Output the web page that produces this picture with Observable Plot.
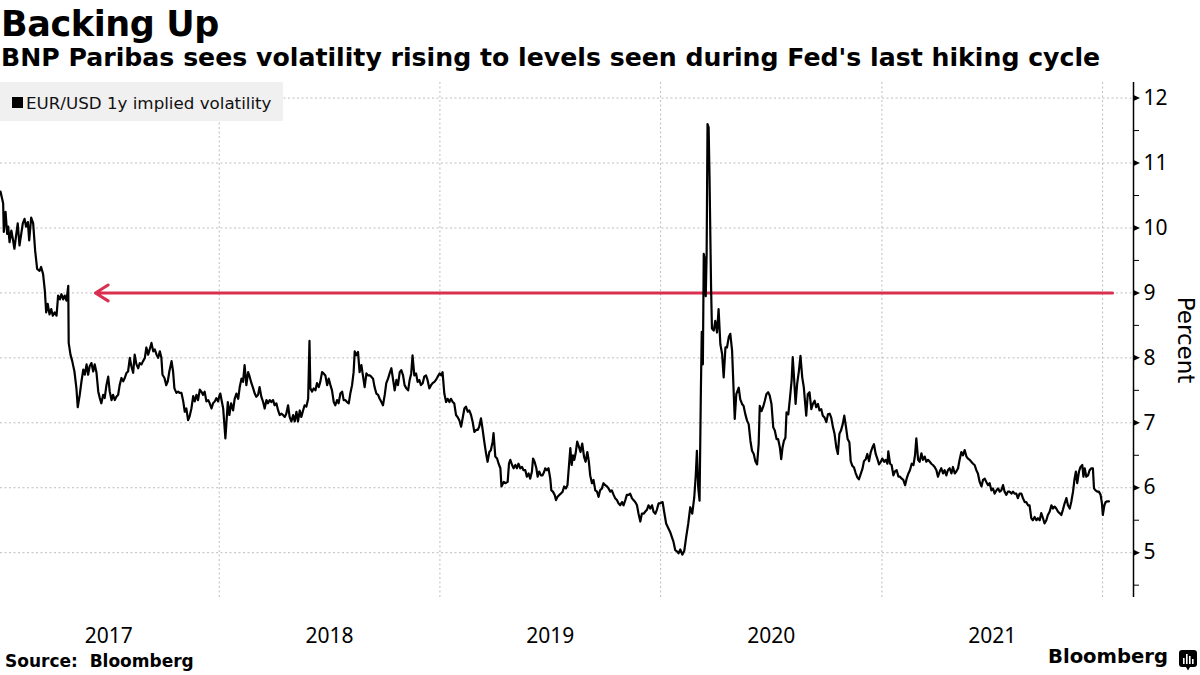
<!DOCTYPE html>
<html>
<head>
<meta charset="utf-8">
<script src="https://cdn.jsdelivr.net/npm/d3@7"></script>
<script src="https://cdn.jsdelivr.net/npm/@observablehq/plot@0.6"></script>
<style>
  html, body { margin: 0; padding: 0; background: #fff; }
  body { width: 1200px; height: 675px; overflow: hidden; position: relative; font-family: "DejaVu Sans", sans-serif; color: #000; }
  .abs { position: absolute; white-space: nowrap; line-height: 1; }
  #title { left: 1px; top: 7px; font-size: 35px; font-weight: bold; letter-spacing: -0.4px; }
  #subtitle { left: 1px; top: 45px; font-size: 25.2px; font-weight: bold; }
  #chart { position: absolute; left: 0; top: 76px; }
  #legend { left: 0; top: 82px; width: 283px; height: 39px; background: #f0f0f0; }
  #legend .sw { position: absolute; left: 12px; top: 15px; width: 11px; height: 11px; background: #000; }
  #legend .lt { position: absolute; left: 26px; top: 13px; font-size: 16.7px; line-height: 1; white-space: nowrap; color: #111; }
  #percent { left: 1185px; top: 340px; font-size: 23px; transform: translate(-50%, -50%) rotate(90deg); transform-origin: center; }
  #source { left: 5px; top: 653px; font-size: 17px; font-weight: bold; }
  #brand { left: 1048px; top: 647px; font-size: 19.6px; font-weight: bold; }
  #logo { position: absolute; left: 1179px; top: 650px; }
</style>
</head>
<body>
<div id="title" class="abs">Backing Up</div>
<div id="subtitle" class="abs">BNP Paribas sees volatility rising to levels seen during Fed's last hiking cycle</div>
<div id="chart"></div>
<div id="legend" class="abs"><div class="sw"></div><div class="lt">EUR/USD 1y implied volatility</div></div>
<div id="percent" class="abs">Percent</div>
<div id="source" class="abs">Source:&nbsp; Bloomberg</div>
<div id="brand" class="abs">Bloomberg</div>
<svg id="logo" width="18" height="21" viewBox="0 0 18 21">
  <path d="M3 0 H15 Q18 0 18 3 V14 Q18 17 15 17 H11 L9 20.5 L7 17 H3 Q0 17 0 14 V3 Q0 0 3 0 Z" fill="#000"/>
  <rect x="4" y="8" width="1.6" height="6" fill="#fff"/>
  <rect x="7" y="4" width="1.6" height="10" fill="#fff"/>
  <rect x="10" y="6" width="1.6" height="8" fill="#fff"/>
  <rect x="13" y="9" width="1.6" height="5" fill="#fff"/>
</svg>
<script>
// ---- data (x as decimal years, y as percent) ----
const series = [
[2017.009,10.56],[2017.021,10.38],[2017.024,9.94],[2017.032,10.25],[2017.039,9.91],[2017.044,10.02],[2017.050,9.78],[2017.058,9.96],[2017.065,9.83],[2017.072,9.68],
[2017.080,9.89],[2017.087,10.07],[2017.095,9.73],[2017.103,9.91],[2017.110,10.07],[2017.118,10.14],[2017.125,10.02],[2017.133,10.09],[2017.139,9.81],[2017.148,10.16],
[2017.157,10.07],[2017.166,9.65],[2017.175,9.37],[2017.186,9.34],[2017.193,9.40],[2017.202,9.29],[2017.210,9.03],[2017.216,8.70],[2017.223,8.83],[2017.231,8.67],
[2017.239,8.75],[2017.246,8.65],[2017.255,8.70],[2017.263,8.65],[2017.270,8.96],[2017.278,8.90],[2017.285,8.98],[2017.293,8.90],[2017.300,8.96],[2017.308,8.88],
[2017.316,9.11],[2017.318,8.23],[2017.326,8.05],[2017.334,7.95],[2017.344,7.79],[2017.353,7.53],[2017.359,7.24],[2017.368,7.43],[2017.376,7.64],[2017.384,7.82],
[2017.391,7.74],[2017.399,7.90],[2017.406,7.74],[2017.413,7.87],[2017.421,7.92],[2017.429,7.79],[2017.436,7.90],[2017.444,7.77],[2017.452,7.48],[2017.459,7.38],
[2017.466,7.30],[2017.474,7.43],[2017.481,7.38],[2017.489,7.58],[2017.497,7.71],[2017.504,7.48],[2017.512,7.35],[2017.519,7.43],[2017.527,7.35],[2017.534,7.40],
[2017.542,7.43],[2017.549,7.58],[2017.557,7.69],[2017.565,7.64],[2017.572,7.69],[2017.580,7.77],[2017.587,7.79],[2017.595,8.00],[2017.602,7.87],[2017.610,7.77],
[2017.617,8.05],[2017.625,7.90],[2017.633,7.84],[2017.640,7.92],[2017.648,7.90],[2017.655,7.95],[2017.663,8.00],[2017.670,8.16],[2017.678,8.05],[2017.685,8.13],
[2017.693,8.23],[2017.701,8.10],[2017.708,8.13],[2017.716,8.05],[2017.723,8.00],[2017.731,8.10],[2017.738,8.00],[2017.743,7.74],[2017.752,7.69],[2017.760,7.58],
[2017.767,7.64],[2017.774,7.79],[2017.784,7.95],[2017.791,7.79],[2017.797,7.53],[2017.806,7.46],[2017.814,7.48],[2017.821,7.46],[2017.829,7.46],[2017.837,7.33],
[2017.844,7.17],[2017.851,7.22],[2017.859,7.04],[2017.866,7.10],[2017.874,7.22],[2017.882,7.41],[2017.889,7.33],[2017.897,7.43],[2017.904,7.35],[2017.912,7.51],
[2017.919,7.48],[2017.927,7.43],[2017.934,7.48],[2017.942,7.33],[2017.950,7.35],[2017.957,7.30],[2017.965,7.22],[2017.972,7.30],[2017.980,7.33],[2017.987,7.38],
[2017.995,7.33],[2018.002,7.43],[2018.005,7.45],[2018.018,7.22],[2018.028,6.76],[2018.039,7.32],[2018.046,7.12],[2018.054,7.30],[2018.063,7.19],[2018.070,7.37],
[2018.078,7.45],[2018.086,7.37],[2018.093,7.55],[2018.101,7.68],[2018.108,7.63],[2018.115,7.89],[2018.123,7.58],[2018.131,7.78],[2018.138,7.71],[2018.146,7.61],
[2018.154,7.53],[2018.161,7.45],[2018.168,7.40],[2018.176,7.43],[2018.183,7.55],[2018.191,7.40],[2018.199,7.32],[2018.206,7.22],[2018.214,7.35],[2018.221,7.30],
[2018.229,7.35],[2018.236,7.32],[2018.244,7.35],[2018.251,7.27],[2018.259,7.30],[2018.267,7.19],[2018.274,7.12],[2018.282,7.14],[2018.289,7.12],[2018.297,7.09],
[2018.304,7.14],[2018.312,7.27],[2018.319,7.09],[2018.327,7.02],[2018.335,7.12],[2018.342,7.02],[2018.350,7.17],[2018.357,7.02],[2018.365,7.19],[2018.372,7.09],
[2018.380,7.19],[2018.387,7.27],[2018.395,7.25],[2018.403,7.37],[2018.409,8.26],[2018.413,7.53],[2018.421,7.48],[2018.428,7.53],[2018.436,7.50],[2018.443,7.61],
[2018.451,7.55],[2018.458,7.63],[2018.466,7.78],[2018.473,7.76],[2018.481,7.73],[2018.489,7.58],[2018.496,7.68],[2018.504,7.58],[2018.511,7.50],[2018.519,7.32],
[2018.526,7.27],[2018.534,7.35],[2018.541,7.30],[2018.549,7.45],[2018.557,7.48],[2018.564,7.35],[2018.572,7.35],[2018.579,7.32],[2018.587,7.30],[2018.594,7.45],
[2018.602,7.58],[2018.609,7.78],[2018.614,8.10],[2018.621,8.04],[2018.629,8.09],[2018.636,7.78],[2018.644,7.89],[2018.652,7.71],[2018.659,7.55],[2018.667,7.76],
[2018.674,7.73],[2018.682,7.73],[2018.689,7.71],[2018.697,7.68],[2018.704,7.55],[2018.712,7.45],[2018.720,7.43],[2018.727,7.37],[2018.735,7.32],[2018.742,7.27],
[2018.750,7.43],[2018.757,7.61],[2018.765,7.68],[2018.772,7.76],[2018.780,7.84],[2018.788,7.66],[2018.795,7.50],[2018.803,7.66],[2018.810,7.58],[2018.818,7.78],
[2018.825,7.81],[2018.833,7.73],[2018.840,7.58],[2018.848,7.53],[2018.856,7.50],[2018.863,7.66],[2018.870,7.76],[2018.876,8.04],[2018.884,7.73],[2018.892,7.76],
[2018.899,7.63],[2018.907,7.66],[2018.914,7.58],[2018.922,7.61],[2018.929,7.71],[2018.937,7.73],[2018.944,7.66],[2018.952,7.53],[2018.960,7.58],[2018.967,7.61],
[2018.975,7.63],[2018.982,7.66],[2018.990,7.71],[2018.999,7.76],[2019.006,7.73],[2019.012,7.78],[2019.020,7.45],[2019.028,7.32],[2019.035,7.37],[2019.043,7.32],
[2019.050,7.37],[2019.058,7.32],[2019.065,7.30],[2019.073,7.12],[2019.080,7.09],[2019.088,7.04],[2019.096,6.94],[2019.103,7.07],[2019.111,7.22],[2019.118,7.25],
[2019.126,7.17],[2019.133,7.19],[2019.141,7.12],[2019.148,7.02],[2019.156,6.86],[2019.164,6.89],[2019.171,6.89],[2019.178,6.94],[2019.186,7.07],[2019.193,6.91],
[2019.201,6.71],[2019.209,6.53],[2019.216,6.40],[2019.224,6.55],[2019.231,6.58],[2019.239,6.71],[2019.243,6.84],[2019.251,6.48],[2019.259,6.45],[2019.266,6.37],
[2019.274,6.30],[2019.279,6.02],[2019.289,6.09],[2019.296,6.07],[2019.307,6.09],[2019.313,6.37],[2019.319,6.43],[2019.327,6.35],[2019.334,6.30],[2019.342,6.35],
[2019.349,6.30],[2019.356,6.37],[2019.364,6.30],[2019.372,6.32],[2019.379,6.27],[2019.387,6.27],[2019.394,6.17],[2019.402,6.22],[2019.409,6.14],[2019.417,6.25],
[2019.422,6.45],[2019.429,6.40],[2019.437,6.30],[2019.443,6.17],[2019.450,6.25],[2019.458,6.19],[2019.465,6.19],[2019.473,6.25],[2019.477,6.30],[2019.485,6.27],
[2019.492,6.30],[2019.500,6.14],[2019.505,5.96],[2019.512,5.94],[2019.520,5.89],[2019.526,5.81],[2019.533,5.86],[2019.541,5.89],[2019.548,5.91],[2019.556,5.94],
[2019.563,6.02],[2019.571,5.99],[2019.578,6.04],[2019.585,6.35],[2019.591,6.61],[2019.597,6.35],[2019.603,6.50],[2019.609,6.43],[2019.615,6.53],[2019.622,6.71],
[2019.630,6.63],[2019.637,6.55],[2019.645,6.68],[2019.653,6.48],[2019.660,6.40],[2019.668,6.55],[2019.675,6.40],[2019.681,6.19],[2019.689,6.07],[2019.696,6.12],
[2019.704,5.96],[2019.712,5.94],[2019.719,5.86],[2019.726,5.96],[2019.734,5.99],[2019.741,6.07],[2019.749,6.04],[2019.757,6.02],[2019.764,5.99],[2019.772,5.94],
[2019.779,5.96],[2019.787,5.89],[2019.794,5.84],[2019.802,5.81],[2019.809,5.76],[2019.817,5.73],[2019.825,5.78],[2019.832,5.73],[2019.840,5.81],[2019.847,5.89],
[2019.855,5.89],[2019.862,5.91],[2019.870,5.84],[2019.877,5.81],[2019.885,5.78],[2019.893,5.73],[2019.900,5.60],[2019.908,5.48],[2019.915,5.60],[2019.923,5.60],
[2019.930,5.63],[2019.938,5.66],[2019.945,5.73],[2019.953,5.68],[2019.961,5.73],[2019.968,5.63],[2019.976,5.60],[2019.983,5.66],[2019.991,5.76],[2019.998,5.76],
[2020.009,5.78],[2020.016,5.63],[2020.025,5.45],[2020.036,5.37],[2020.043,5.32],[2020.051,5.24],[2020.058,5.17],[2020.066,5.04],[2020.074,5.02],[2020.081,4.99],
[2020.089,5.05],[2020.098,4.97],[2020.107,5.03],[2020.116,5.25],[2020.125,5.45],[2020.134,5.70],[2020.143,5.60],[2020.152,5.85],[2020.159,6.20],[2020.164,6.57],
[2020.170,6.00],[2020.176,5.80],[2020.182,7.50],[2020.186,8.40],[2020.191,7.90],[2020.195,9.60],[2020.200,9.50],[2020.204,8.95],[2020.208,9.60],[2020.212,11.60],
[2020.217,11.55],[2020.221,10.80],[2020.228,9.10],[2020.232,8.45],[2020.240,8.42],[2020.247,8.57],[2020.255,8.39],[2020.262,8.75],[2020.270,8.21],[2020.278,8.06],
[2020.285,7.70],[2020.293,8.16],[2020.300,8.16],[2020.308,8.32],[2020.315,8.37],[2020.323,8.11],[2020.330,7.49],[2020.335,7.06],[2020.342,7.44],[2020.353,7.54],
[2020.360,7.36],[2020.368,7.29],[2020.375,7.26],[2020.383,7.13],[2020.391,7.03],[2020.398,6.98],[2020.406,6.72],[2020.413,6.57],[2020.421,6.52],[2020.428,6.41],
[2020.436,6.36],[2020.443,6.67],[2020.448,7.26],[2020.456,7.18],[2020.463,7.24],[2020.471,7.34],[2020.478,7.44],[2020.486,7.47],[2020.493,7.42],[2020.501,7.29],
[2020.509,6.93],[2020.516,6.88],[2020.524,6.75],[2020.531,6.75],[2020.539,6.62],[2020.545,6.44],[2020.551,6.62],[2020.557,6.72],[2020.564,6.77],[2020.569,7.16],
[2020.577,7.13],[2020.584,7.36],[2020.592,7.65],[2020.597,8.01],[2020.602,7.75],[2020.610,7.29],[2020.617,7.60],[2020.625,7.80],[2020.632,8.03],[2020.640,7.70],
[2020.647,7.55],[2020.658,7.11],[2020.665,7.44],[2020.673,7.47],[2020.681,7.21],[2020.688,7.29],[2020.696,7.34],[2020.703,7.24],[2020.711,7.29],[2020.718,7.19],
[2020.726,7.21],[2020.733,7.11],[2020.741,7.08],[2020.749,7.01],[2020.756,7.13],[2020.764,7.14],[2020.771,7.08],[2020.779,6.93],[2020.786,6.83],[2020.794,6.62],
[2020.801,6.52],[2020.808,6.83],[2020.815,6.88],[2020.823,6.98],[2020.830,7.11],[2020.838,6.93],[2020.845,6.75],[2020.853,6.70],[2020.859,6.41],[2020.866,6.34],
[2020.874,6.31],[2020.881,6.23],[2020.889,6.16],[2020.896,6.13],[2020.904,6.21],[2020.912,6.29],[2020.919,6.41],[2020.927,6.44],[2020.934,6.52],[2020.942,6.41],
[2020.949,6.54],[2020.957,6.62],[2020.964,6.67],[2020.972,6.52],[2020.980,6.44],[2020.987,6.36],[2020.995,6.40],[2021.002,6.45],[2021.010,6.40],[2021.017,6.43],
[2021.025,6.37],[2021.029,6.56],[2021.037,6.37],[2021.044,6.35],[2021.052,6.19],[2021.059,6.25],[2021.067,6.27],[2021.075,6.17],[2021.082,6.17],[2021.090,6.14],
[2021.097,6.12],[2021.105,6.04],[2021.112,6.14],[2021.120,6.22],[2021.127,6.27],[2021.135,6.37],[2021.143,6.35],[2021.150,6.50],[2021.156,6.76],[2021.164,6.43],
[2021.171,6.40],[2021.179,6.53],[2021.186,6.43],[2021.194,6.48],[2021.201,6.40],[2021.209,6.43],[2021.217,6.40],[2021.224,6.37],[2021.231,6.35],[2021.239,6.32],
[2021.247,6.27],[2021.254,6.17],[2021.262,6.25],[2021.269,6.30],[2021.277,6.22],[2021.284,6.27],[2021.292,6.19],[2021.299,6.27],[2021.307,6.30],[2021.315,6.22],
[2021.322,6.32],[2021.330,6.22],[2021.337,6.25],[2021.345,6.30],[2021.352,6.43],[2021.360,6.55],[2021.367,6.50],[2021.375,6.58],[2021.383,6.48],[2021.390,6.45],
[2021.398,6.43],[2021.405,6.40],[2021.413,6.37],[2021.420,6.35],[2021.428,6.27],[2021.435,6.22],[2021.443,6.09],[2021.451,6.02],[2021.458,6.12],[2021.466,6.14],
[2021.473,6.09],[2021.481,6.04],[2021.488,6.07],[2021.496,5.96],[2021.503,5.99],[2021.511,5.91],[2021.519,5.96],[2021.526,5.99],[2021.534,5.94],[2021.541,5.96],
[2021.549,6.04],[2021.556,5.94],[2021.564,5.89],[2021.571,5.94],[2021.579,5.94],[2021.587,5.91],[2021.594,5.94],[2021.601,5.91],[2021.609,5.91],[2021.616,5.84],
[2021.624,5.91],[2021.632,5.91],[2021.639,5.84],[2021.647,5.78],[2021.654,5.78],[2021.662,5.73],[2021.669,5.73],[2021.677,5.53],[2021.684,5.50],[2021.692,5.55],
[2021.700,5.50],[2021.707,5.53],[2021.715,5.50],[2021.722,5.61],[2021.730,5.53],[2021.737,5.45],[2021.745,5.50],[2021.752,5.58],[2021.760,5.63],[2021.768,5.73],
[2021.775,5.68],[2021.783,5.71],[2021.790,5.68],[2021.798,5.63],[2021.805,5.61],[2021.813,5.58],[2021.820,5.66],[2021.828,5.76],[2021.836,5.84],[2021.843,5.73],
[2021.851,5.68],[2021.858,5.78],[2021.866,5.94],[2021.873,6.14],[2021.879,6.25],[2021.885,6.07],[2021.893,6.25],[2021.900,6.32],[2021.908,6.35],[2021.913,6.17],
[2021.919,6.30],[2021.926,6.17],[2021.934,6.19],[2021.941,6.27],[2021.949,6.30],[2021.956,6.30],[2021.961,5.99],[2021.968,5.96],[2021.976,5.94],[2021.983,5.94],
[2021.991,5.89],[2021.997,5.76],[2022.001,5.58],[2022.008,5.73],[2022.014,5.78],[2022.021,5.79],[2022.029,5.79]
];
const seriesName = "EUR/USD 1y implied volatility";
const yTicks = [5, 6, 7, 8, 9, 10, 11, 12];
const yMinorTicks = [4.5, 5.5, 6.5, 7.5, 8.5, 9.5, 10.5, 11.5];
const yearLabels = [2017, 2018, 2019, 2020, 2021];
const yearBoundaries = [2018, 2019, 2020, 2021, 2022];
const referenceLevel = 9;          // Fed-hiking-cycle level marked by the arrow
const arrowSpan = [2022.045, 2017.439]; // arrow runs from right edge back to early 2017
const xExtent = [2017.009, 2022.140];
const yExtent = [4.31, 12.24];

// decimal year -> Date
function toDate(t) {
  const y = Math.floor(t);
  const a = Date.UTC(y, 0, 1), b = Date.UTC(y + 1, 0, 1);
  return new Date(a + (t - y) * (b - a));
}

const rows = series.map(([t, v]) => ({date: toDate(t), value: v}));
const arrowRows = [{x1: toDate(arrowSpan[0]), x2: toDate(arrowSpan[1]), y: referenceLevel}];

const triRight = {
  draw(ctx) { ctx.moveTo(0, -3); ctx.lineTo(6.5, 0); ctx.lineTo(0, 3); ctx.closePath(); }
};

const grid = {stroke: "#bdbdbd", strokeOpacity: 1, strokeWidth: 1, strokeDasharray: "2,2.5"};

const chart = Plot.plot({
  width: 1200,
  height: 570,
  marginTop: 6,
  marginBottom: 49,
  marginLeft: 0,
  marginRight: 67,
  x: {type: "utc", domain: xExtent.map(toDate)},
  y: {domain: yExtent},
  style: {fontFamily: "'Noto Sans', sans-serif", color: "#000", background: "transparent", overflow: "visible"},
  marks: [
    Plot.gridX({ticks: yearBoundaries.map(toDate), ...grid}),
    Plot.gridY({ticks: yTicks, ...grid}),
    Plot.arrow(arrowRows, {x1: "x1", x2: "x2", y1: "y", y2: "y", stroke: "#d9304f", strokeWidth: 3, headLength: 7.5, headAngle: 64}),
    Plot.line(rows, {x: "date", y: "value", stroke: "#000", strokeWidth: 2.2, strokeLinejoin: "round"}),
    Plot.ruleX([toDate(xExtent[1])], {stroke: "#000", strokeWidth: 1.5}),
    Plot.dot(yTicks, {y: d => d, frameAnchor: "right", symbol: triRight, fill: "#000", stroke: null, r: 3}),
    Plot.axisY({anchor: "right", ticks: yMinorTicks, tickSize: 5, tickFormat: () => "", label: null, stroke: "#000"}),
    Plot.axisY({anchor: "right", ticks: yTicks, tickSize: 0, tickPadding: 10, fontSize: 21, label: null}),
    Plot.axisX({ticks: yearLabels.map(y => toDate(y + 0.5)), tickSize: 0, tickPadding: 31, fontSize: 21, tickFormat: d3.utcFormat("%Y"), label: null})
  ]
});
document.getElementById("chart").appendChild(chart);
</script>
</body>
</html>
